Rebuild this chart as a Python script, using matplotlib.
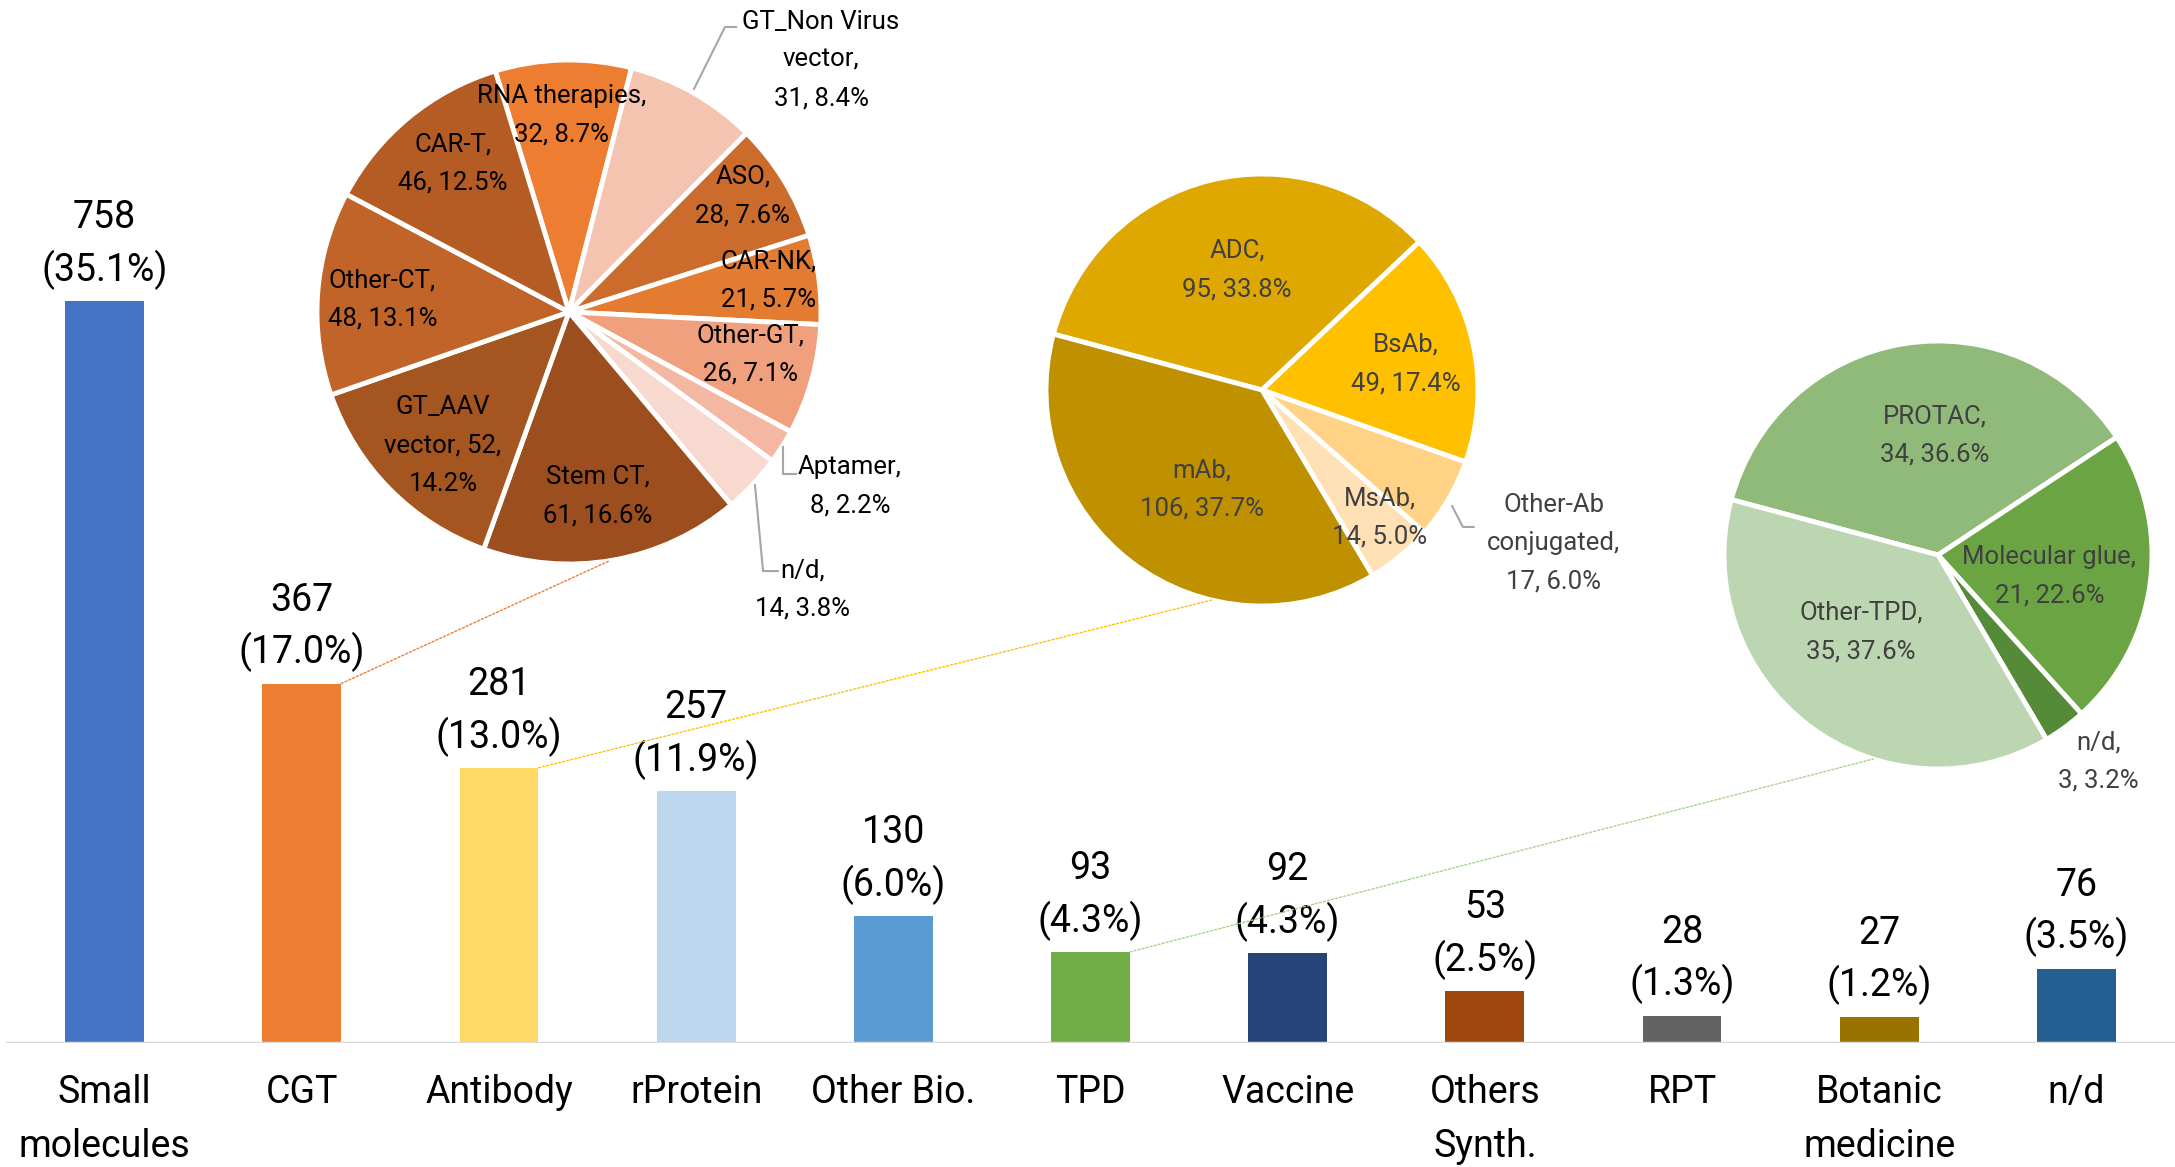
import matplotlib
matplotlib.use('Agg')
import matplotlib.pyplot as plt
import numpy as np
from matplotlib.patches import ConnectionPatch

plt.rcParams['font.family'] = ['Roboto', 'DejaVu Sans']

# ---------------- data ----------------
categories = ['Small\nmolecules', 'CGT', 'Antibody', 'rProtein', 'Other Bio.', 'TPD',
              'Vaccine', 'Others\nSynth.', 'RPT', 'Botanic\nmedicine', 'n/d']
counts = [758, 367, 281, 257, 130, 93, 92, 53, 28, 27, 76]
shares = ['35.1%', '17.0%', '13.0%', '11.9%', '6.0%', '4.3%', '4.3%', '2.5%', '1.3%', '1.2%', '3.5%']
bar_colors = ['#4472C4', '#ED7D31', '#FFD966', '#BDD7EE', '#5B9BD5', '#70AD47',
              '#264478', '#9E480E', '#636363', '#997300', '#255E91']

cgt_names = ['RNA therapies', 'GT_Non Virus', 'ASO', 'CAR-NK', 'Other-GT', 'Aptamer',
             'n/d', 'Stem CT', 'GT_AAV', 'Other-CT', 'CAR-T']
cgt_counts = [32, 31, 28, 21, 26, 8, 14, 61, 52, 48, 46]
cgt_pcts = ['8.7%', '8.4%', '7.6%', '5.7%', '7.1%', '2.2%', '3.8%', '16.6%', '14.2%', '13.1%', '12.5%']
cgt_colors = ['#ED7D31', '#F4C4B0', '#CB6B2C', '#E37B31', '#F1A07E', '#F4B7A2',
              '#F8D9D0', '#9C4E1E', '#A5551F', '#C0642A', '#B45C23']

ab_names = ['ADC', 'BsAb', 'Other-Ab conjugated', 'MsAb', 'mAb']
ab_counts = [95, 49, 17, 14, 106]
ab_pcts = ['33.8%', '17.4%', '6.0%', '5.0%', '37.7%']
ab_colors = ['#DFA800', '#FFC000', '#FFD285', '#FFE1B5', '#BF9000']

tpd_names = ['PROTAC', 'Molecular glue', 'n/d', 'Other-TPD']
tpd_counts = [34, 21, 3, 35]
tpd_pcts = ['36.6%', '22.6%', '3.2%', '37.6%']
tpd_colors = ['#8FBA79', '#6AA443', '#548A38', '#BCD6B1']

# ---------------- layout ----------------
W, H = 2175, 1167
fig = plt.figure(figsize=(W / 100, H / 100), dpi=100)

ax = fig.add_axes([6 / W, 1 - 1043 / H, 1 - 6 / W, 1043 / H])
x = np.arange(len(categories))
bw = 0.4
ax.bar(x, counts, width=bw, color=bar_colors, zorder=2)
ax.set_xlim(-0.5, len(categories) - 0.5)
ax.set_ylim(0, 1065)
for s in ax.spines.values():
    s.set_visible(False)
ax.axhline(0, color='#D9D9D9', lw=2.5, zorder=3)
ax.set_yticks([])
ax.set_xticks(x)
ax.set_xticklabels(categories, fontsize=27, linespacing=1.6)
ax.tick_params(axis='x', length=0, pad=22)
for i, (v, p) in enumerate(zip(counts, shares)):
    ax.annotate(f"{v}\n({p})", xy=(i, v), xytext=(0, 8), textcoords='offset points',
                ha='center', va='bottom', fontsize=27, linespacing=1.43, color='black')


def pie_axes(cx, cy, r):
    pa = fig.add_axes([(cx - r) / W, 1 - (cy + r) / H, 2 * r / W, 2 * r / H])
    return pa


def draw_pie(pa, vals, cols, start):
    pa.pie(vals, colors=cols, startangle=start, counterclock=False, radius=1,
           wedgeprops=dict(edgecolor='white', linewidth=3.5), frame=False)
    pa.set_xlim(-1, 1)
    pa.set_ylim(-1, 1)
    pa.set_aspect('equal')
    pa.axis('off')


def lbl(name, n, p, mode=0):
    if mode == 0:
        return f"{name},\n{n}, {p}"
    if mode == 1:  # name split over two lines
        a, b = name.rsplit(' ', 1)
        return f"{a}\n{b},\n{n}, {p}"
    if mode == 2:  # GT_AAV style
        return f"{name}\nvector, {n},\n{p}"
    if mode == 3:
        return f"{name}\nvector,\n{n}, {p}"


PLS = 1.75
# ---- CGT pie ----
p1 = pie_axes(569, 312, 252)
draw_pie(p1, cgt_counts, cgt_colors, 107)
cgt_modes = [0, 3, 0, 0, 0, 0, 0, 0, 2, 0, 0]
cgt_pos = [(-0.03, 0.78), (1.00, 1.00), (0.69, 0.46), (0.79, 0.125), (0.72, -0.17),
           (1.115, -0.69), (0.925, -1.10), (0.115, -0.73), (-0.50, -0.53),
           (-0.74, 0.05), (-0.46, 0.59)]
for nm, n, pc, md, (px, py) in zip(cgt_names, cgt_counts, cgt_pcts, cgt_modes, cgt_pos):
    p1.text(px, py, lbl(nm, n, pc, md), ha='center', va='center', fontsize=18.5,
            linespacing=PLS, color='black', clip_on=False)
lc = '#A6A6A6'
p1.plot([0.496, 0.619, 0.663], [0.885, 1.131, 1.131], color=lc, lw=1.5, clip_on=False)
p1.plot([0.849, 0.849, 0.901], [-0.536, -0.643, -0.643], color=lc, lw=1.5, clip_on=False)
p1.plot([0.738, 0.77, 0.829], [-0.687, -1.028, -1.028], color=lc, lw=1.5, clip_on=False)

# ---- Antibody pie ----
p2 = pie_axes(1262, 390, 216)
draw_pie(p2, ab_counts, ab_colors, 165)
ab_modes = [0, 0, 1, 0, 0]
ab_pos = [(-0.116, 0.556), (0.667, 0.12), (1.35, -0.71), (0.546, -0.59), (-0.28, -0.46)]
for nm, n, pc, md, (px, py) in zip(ab_names, ab_counts, ab_pcts, ab_modes, ab_pos):
    p2.text(px, py, lbl(nm, n, pc, md), ha='center', va='center', fontsize=18.5,
            linespacing=PLS, color='#404040', clip_on=False)
p2.plot([0.88, 0.93, 0.98], [-0.537, -0.634, -0.634], color=lc, lw=1.5, clip_on=False)

# ---- TPD pie ----
p3 = pie_axes(1938, 555, 214)
draw_pie(p3, tpd_counts, tpd_colors, 165)
tpd_pos = [(-0.014, 0.56), (0.52, -0.10), (0.75, -0.965), (-0.36, -0.36)]
for nm, n, pc, (px, py) in zip(tpd_names, tpd_counts, tpd_pcts, tpd_pos):
    p3.text(px, py, lbl(nm, n, pc, 0), ha='center', va='center', fontsize=18.5,
            linespacing=PLS, color='#404040', clip_on=False)

# ---- connectors from bars to pies ----
def connect(i, pa, ang, col):
    a = np.deg2rad(ang)
    con = ConnectionPatch(xyA=(i + bw / 2, counts[i]), coordsA=ax.transData,
                          xyB=(np.cos(a), np.sin(a)), coordsB=pa.transData,
                          color=col, lw=1.0, linestyle=(0, (1.5, 1.5)))
    fig.add_artist(con)


connect(1, p1, -80.7, '#ED7D31')
connect(2, p2, -103.5, '#FFC000')
connect(5, p3, -107.6, '#A9D18E')

fig.savefig('out.png', dpi=100)
